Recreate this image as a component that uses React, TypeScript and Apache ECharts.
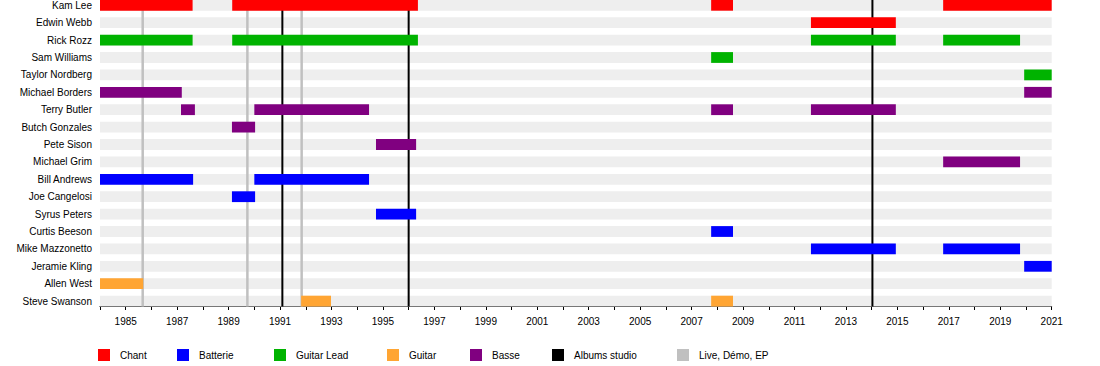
import React, { useEffect, useRef } from "react";
import * as echarts from "echarts";

// ---------- data ----------
const members = [
  "Kam Lee",
  "Edwin Webb",
  "Rick Rozz",
  "Sam Williams",
  "Taylor Nordberg",
  "Michael Borders",
  "Terry Butler",
  "Butch Gonzales",
  "Pete Sison",
  "Michael Grim",
  "Bill Andrews",
  "Joe Cangelosi",
  "Syrus Peters",
  "Curtis Beeson",
  "Mike Mazzonetto",
  "Jeramie Kling",
  "Allen West",
  "Steve Swanson",
];

const timelineStart = 1984;
const timelineEnd = 2021;

// [member, start, end]
const chantPeriods: [string, number, number][] = [
  ["Kam Lee", 1984, 1987.6],
  ["Kam Lee", 1989.14, 1996.36],
  ["Kam Lee", 2007.76, 2008.61],
  ["Kam Lee", 2016.78, 2021],
  ["Edwin Webb", 2011.64, 2014.94],
];
const batteriePeriods: [string, number, number][] = [
  ["Bill Andrews", 1984, 1987.62],
  ["Bill Andrews", 1990.0, 1994.46],
  ["Joe Cangelosi", 1989.13, 1990.03],
  ["Syrus Peters", 1994.73, 1996.29],
  ["Curtis Beeson", 2007.76, 2008.61],
  ["Mike Mazzonetto", 2011.64, 2014.94],
  ["Mike Mazzonetto", 2016.78, 2019.77],
  ["Jeramie Kling", 2019.93, 2021],
];
const guitarLeadPeriods: [string, number, number][] = [
  ["Rick Rozz", 1984, 1987.6],
  ["Rick Rozz", 1989.14, 1996.36],
  ["Rick Rozz", 2011.64, 2014.94],
  ["Rick Rozz", 2016.78, 2019.77],
  ["Sam Williams", 2007.76, 2008.61],
  ["Taylor Nordberg", 2019.93, 2021],
];
const guitarPeriods: [string, number, number][] = [
  ["Allen West", 1984, 1985.68],
  ["Steve Swanson", 1991.82, 1992.98],
  ["Steve Swanson", 2007.76, 2008.61],
];
const bassePeriods: [string, number, number][] = [
  ["Michael Borders", 1984, 1987.18],
  ["Michael Borders", 2019.93, 2021],
  ["Terry Butler", 1987.15, 1987.69],
  ["Terry Butler", 1990.0, 1994.46],
  ["Terry Butler", 2007.76, 2008.61],
  ["Terry Butler", 2011.64, 2014.94],
  ["Butch Gonzales", 1989.13, 1990.03],
  ["Pete Sison", 1994.73, 1996.29],
  ["Michael Grim", 2016.78, 2019.77],
];
const albumsStudio = [1991.09, 1996.0, 2014.03];
const liveDemoEp = [1985.66, 1989.73, 1991.84];

const legendNames = ["Chant", "Batterie", "Guitar Lead", "Guitar", "Basse", "Albums studio", "Live, Démo, EP"];
const legendColors = ["#ff0000", "#0000ff", "#00b300", "#ffa533", "#800080", "#000000", "#c0c0c0"];

// ---------- layout ----------
const FONT = "'Liberation Sans', Arial, sans-serif";
const legendX = [98, 177, 274, 387, 470, 552, 677];
const legendY = 349;

export default function App() {
  const ref = useRef<HTMLDivElement>(null);

  useEffect(() => {
    if (!ref.current) return;
    const chart = echarts.init(ref.current, null, { renderer: "svg" });

    const toRows = (list: [string, number, number][]) =>
      list.map(([m, s, e]) => [members.indexOf(m), s, e]);

    const barRender = (fill: string, ratio: number) => (params: any, api: any) => {
      const row = api.value(0);
      const p0 = api.coord([api.value(1), row]);
      const p1 = api.coord([api.value(2), row]);
      const band = api.size([0, 1])[1];
      const h = band * ratio;
      return {
        type: "rect",
        shape: { x: p0[0], y: p0[1] - h / 2, width: p1[0] - p0[0], height: h },
        style: { fill },
      };
    };

    const lineRender = (stroke: string, width: number) => (params: any, api: any) => {
      const x = api.coord([api.value(0), 0])[0];
      const band = api.size([0, 1])[1];
      const yBottom = api.coord([api.value(0), members.length - 1])[1] + band * 0.31;
      return {
        type: "line",
        shape: { x1: x, y1: 0, x2: x, y2: yBottom },
        style: { stroke, lineWidth: width },
      };
    };

    const barSeries = (data: [string, number, number][], color: string) => ({
      type: "custom",
      renderItem: barRender(color, 0.62),
      encode: { x: [1, 2], y: 0 },
      data: toRows(data),
      z: 5,
      silent: true,
    });

    const lineSeries = (years: number[], color: string, width: number) => ({
      type: "custom",
      renderItem: lineRender(color, width),
      encode: { x: 0, y: 1 },
      data: years.map((y) => [y, 0]),
      z: 3,
      silent: true,
    });

    const graphics: any[] = [];
    legendNames.forEach((name, i) => {
      graphics.push({
        type: "rect",
        left: legendX[i],
        top: legendY,
        shape: { width: 12, height: 12 },
        style: { fill: legendColors[i] },
      });
      graphics.push({
        type: "text",
        left: legendX[i] + 22,
        top: legendY + 1,
        style: { text: name, fill: "#000", font: `10px ${FONT}` },
      });
    });

    chart.setOption({
      animation: false,
      backgroundColor: "#ffffff",
      textStyle: { fontFamily: FONT },
      grid: {
        left: 100,
        width: 951.7,
        top: -3.4,
        height: 313.2,
        containLabel: false,
        outerBoundsMode: "none",
      },
      xAxis: {
        type: "value",
        min: timelineStart,
        max: timelineEnd,
        interval: 1,
        offset: -3.8,
        axisLine: { show: true, lineStyle: { color: "#000", width: 1 } },
        axisTick: { show: true, length: 4, lineStyle: { color: "#000" } },
        axisLabel: {
          fontSize: 10,
          color: "#000",
          margin: 10,
          fontFamily: FONT,
          formatter: (v: number) => (Math.round(v) % 2 === 1 ? String(Math.round(v)) : ""),
        },
        splitLine: { show: false },
      },
      yAxis: {
        type: "category",
        data: members,
        inverse: true,
        axisLine: { show: false },
        axisTick: { show: false },
        axisLabel: { fontSize: 10, color: "#000", margin: 8, fontFamily: FONT },
        splitLine: { show: false },
      },
      series: [
        {
          type: "custom",
          renderItem: barRender("#eeeeee", 0.62),
          encode: { x: [1, 2], y: 0 },
          data: members.map((_, i) => [i, timelineStart, timelineEnd]),
          z: 1,
          silent: true,
        },
        lineSeries(liveDemoEp, "#c0c0c0", 2.5),
        lineSeries(albumsStudio, "#000000", 2),
        barSeries(chantPeriods, legendColors[0]),
        barSeries(batteriePeriods, legendColors[1]),
        barSeries(guitarLeadPeriods, legendColors[2]),
        barSeries(guitarPeriods, legendColors[3]),
        barSeries(bassePeriods, legendColors[4]),
      ],
      graphic: graphics,
    });

    return () => chart.dispose();
  }, []);

  return (
    <div
      ref={ref}
      style={{ position: "fixed", left: 0, top: 0, width: 1100, height: 366, background: "#fff" }}
    />
  );
}
